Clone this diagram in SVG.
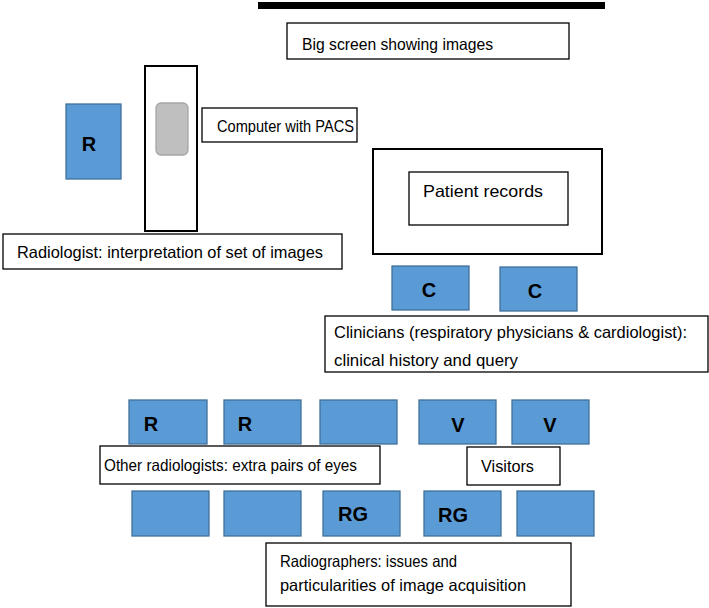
<svg xmlns="http://www.w3.org/2000/svg" width="709" height="608" viewBox="0 0 709 608">
<style>
.box{fill:#fff;stroke:#000;stroke-width:1.3}
.frame{fill:none;stroke:#000;stroke-width:2}
.person{fill:#5B9BD5;stroke:#41719C;stroke-width:1.3}
.pc{fill:#BFBFBF;stroke:#A6A6A6;stroke-width:1.3}
.t{font-family:"Liberation Sans",Arial,sans-serif;font-size:16.5px;fill:#000}
.b{font-family:"Liberation Sans",Arial,sans-serif;font-size:20px;font-weight:bold;fill:#000;text-anchor:middle}
</style>
<rect width="709" height="608" fill="#fff"/>
<g id="big-screen-bar"><rect x="258" y="2" width="347" height="7" fill="#000"/></g>
<g id="big-screen-label"><rect class="box" x="287" y="23" width="282" height="36"/><text class="t" x="302" y="50" textLength="191" lengthAdjust="spacingAndGlyphs">Big screen showing images</text></g>
<g id="radiologist"><rect class="person" x="66" y="104" width="55" height="75"/><text class="b" x="89" y="151">R</text></g>
<g id="workstation"><rect class="frame" x="145" y="66" width="52" height="165"/><rect class="pc" x="156" y="103" width="32" height="52" rx="5"/></g>
<g id="computer-label"><rect class="box" x="202" y="108" width="155" height="34"/><text class="t" x="217" y="132" textLength="137" lengthAdjust="spacingAndGlyphs">Computer with PACS</text></g>
<g id="radiologist-label"><rect class="box" x="3" y="234" width="339" height="35"/><text class="t" x="17" y="258" textLength="306" lengthAdjust="spacingAndGlyphs">Radiologist: interpretation of set of images</text></g>
<g id="patient-records"><rect class="frame" x="373" y="149" width="229" height="105"/><rect class="box" x="409" y="172" width="159" height="53"/><text class="t" x="423" y="197" font-size="18" textLength="120" lengthAdjust="spacingAndGlyphs">Patient records</text></g>
<g id="clinician-1"><rect class="person" x="392" y="266" width="77" height="44"/><text class="b" x="429" y="297">C</text></g>
<g id="clinician-2"><rect class="person" x="500" y="267" width="77" height="44"/><text class="b" x="535" y="298">C</text></g>
<g id="clinicians-label"><rect class="box" x="325" y="316" width="383" height="56"/><text class="t" x="334" y="338" textLength="353" lengthAdjust="spacingAndGlyphs">Clinicians (respiratory physicians &amp; cardiologist):</text><text class="t" x="334" y="366" textLength="184" lengthAdjust="spacingAndGlyphs">clinical history and query</text></g>
<g id="row1-r1"><rect class="person" x="129" y="400" width="78" height="44"/><text class="b" x="151" y="431">R</text></g>
<g id="row1-r2"><rect class="person" x="224" y="400" width="77" height="44"/><text class="b" x="245" y="431">R</text></g>
<g id="row1-empty"><rect class="person" x="320" y="400" width="77" height="44"/></g>
<g id="row1-v1"><rect class="person" x="419" y="400" width="77" height="44"/><text class="b" x="458" y="432">V</text></g>
<g id="row1-v2"><rect class="person" x="512" y="400" width="77" height="44"/><text class="b" x="550" y="432">V</text></g>
<g id="other-radiologists-label"><rect class="box" x="100" y="446" width="280" height="38"/><text class="t" x="104" y="471" textLength="253" lengthAdjust="spacingAndGlyphs">Other radiologists: extra pairs of eyes</text></g>
<g id="visitors-label"><rect class="box" x="467" y="447" width="93" height="38"/><text class="t" x="481" y="472" textLength="53" lengthAdjust="spacingAndGlyphs">Visitors</text></g>
<g id="row2-empty1"><rect class="person" x="132" y="491" width="77" height="45"/></g>
<g id="row2-empty2"><rect class="person" x="224" y="491" width="77" height="45"/></g>
<g id="row2-rg1"><rect class="person" x="323" y="491" width="77" height="45"/><text class="b" x="353" y="521">RG</text></g>
<g id="row2-rg2"><rect class="person" x="424" y="491" width="77" height="45"/><text class="b" x="453" y="522">RG</text></g>
<g id="row2-empty3"><rect class="person" x="517" y="491" width="77" height="45"/></g>
<g id="radiographers-label"><rect class="box" x="266" y="543" width="305" height="63"/><text class="t" x="280" y="567" textLength="177" lengthAdjust="spacingAndGlyphs">Radiographers: issues and</text><text class="t" x="280" y="591" textLength="246" lengthAdjust="spacingAndGlyphs">particularities of image acquisition</text></g>
</svg>
